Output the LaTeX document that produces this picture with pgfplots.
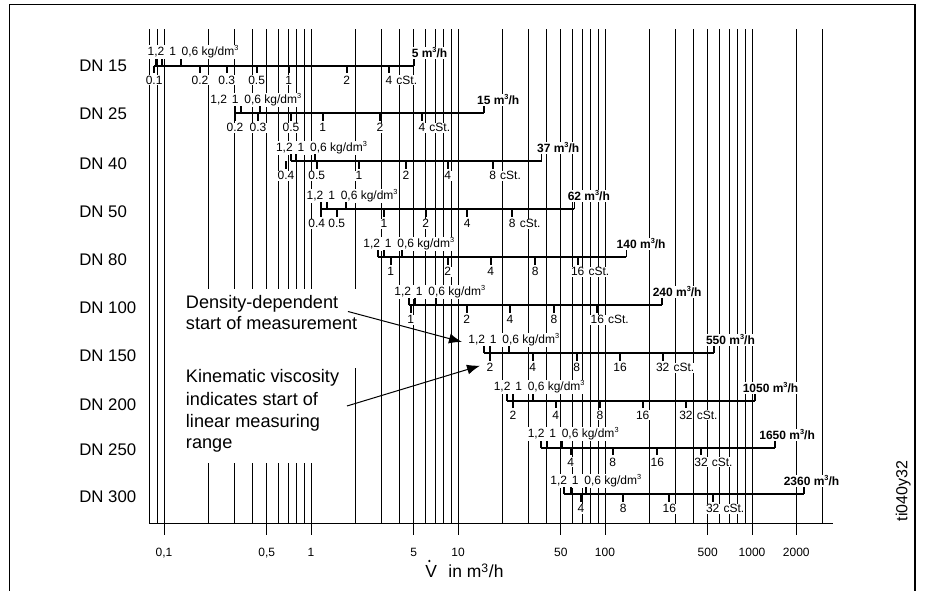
\documentclass[border=0pt]{standalone}
\usepackage{pgfplots}
\pgfplotsset{compat=1.18}
\usepackage{fontspec}
\setmainfont{Liberation Sans}
\usetikzlibrary{arrows.meta}

\pgfdeclareplotmark{utick}{\pgfpathmoveto{\pgfqpoint{0pt}{0pt}}\pgfpathlineto{\pgfqpoint{0pt}{5.6pt}}\pgfusepathqstroke}
\pgfdeclareplotmark{dtick}{\pgfpathmoveto{\pgfqpoint{0pt}{0pt}}\pgfpathlineto{\pgfqpoint{0pt}{-5.6pt}}\pgfusepathqstroke}

\newcommand\sm{\fontsize{9}{10}\selectfont}
\newcommand\dnf{\fontsize{12.6}{14}\selectfont}
\newcommand\anf{\fontsize{13.6}{16}\selectfont}
\newcommand\xlf{\fontsize{13.1}{15}\selectfont}
\newcommand\tif{\fontsize{12}{14}\selectfont}
\newcommand\sups[1]{\raisebox{0.42em}{\fontsize{5.5}{5.5}\selectfont #1}}
\newcommand\dens{1,2\hspace{1.2pt} 1\hspace{1.8pt} 0,6 kg/dm\sups{3}}
% below label with number centred on tick
\newcommand\vl[3]{\node[lab,anchor=north] at (axis cs:#1,#2) {#3};}
% last label with cSt.
\newcommand\vlc[3]{\node[lab,anchor=north] (cc) at (axis cs:#1,#2) {#3};
  \node[lab,anchor=base west] at (cc.base east) {\,cSt.};}
\newcommand\dl[2]{\node[lab,anchor=base west] at (axis cs:#1,#2) {\dens};}
\newcommand\el[3]{\node[lab,anchor=base west] at (axis cs:#1,#2) {\textbf{#3 m\sups{3}/h}};}

\begin{document}
\begin{tikzpicture}[
  lab/.style={font=\sm, fill=white, inner sep=0.6pt},
  rng/.style={black, line width=1.5pt},
  upt/.style={only marks, mark=utick, black, line width=1.4pt},
  dnt/.style={only marks, mark=dtick, black, line width=1.4pt},
  ]
\begin{axis}[
  scale only axis, width=512.4375pt, height=371.25pt,
  xmode=log, xmin=0.08, xmax=3556, ymin=67, ymax=562,
  axis x line*=bottom, axis y line=none,
  x axis line style={-, line width=0.75pt},
  xtick={0.1,0.5,1,5,10,50,100,500,1000,2000},
  xticklabels={{0,1},{0,5},1,5,10,50,100,500,1000,2000},
  minor xtick={0.08,0.09,0.2,0.3,0.4,0.6,0.7,0.8,0.9,2,3,4,6,7,8,9,20,30,40,60,70,80,90,200,300,400,600,700,800,900,3000},
  xmajorgrids=true, xminorgrids=true,
  major grid style={black, line width=0.7pt},
  minor grid style={black, line width=0.7pt},
  tick align=outside, major tick length=8.25pt, minor tick length=0pt,
  tick style={black, line width=0.7pt},
  xticklabel style={font=\sm, anchor=north, inner sep=0pt},
  xticklabel shift=9.5pt,
  clip=false,
]
% ---------- DN 15
\addplot[rng] coordinates {(0.0855,525) (5,525)};
\addplot[upt] coordinates {(0.0882,525) (0.0973,525) (0.1305,525) (5,525)};
\addplot[dnt] coordinates {(0.0857,525) (0.1758,525) (0.267,525) (0.427,525) (0.705,525) (1.749,525) (3.394,525)};
\vl{0.0857}{516}{0.1}\vl{0.1758}{516}{0.2}\vl{0.267}{516}{0.3}\vl{0.427}{516}{0.5}\vl{0.705}{516}{1}\vl{1.749}{516}{2}\vlc{3.394}{516}{4}
\dl{0.0762}{535}\el{4.767}{533.5}{5}
% ---------- DN 25
\addplot[rng] coordinates {(0.304,477.5) (15,477.5)};
\addplot[upt] coordinates {(0.304,477.5) (0.3357,477.5) (0.4519,477.5) (15,477.5)};
\addplot[dnt] coordinates {(0.304,477.5) (0.436,477.5) (0.731,477.5) (1.201,477.5) (2.947,477.5) (5.69,477.5)};
\vl{0.304}{468.5}{0.2}\vl{0.436}{468.5}{0.3}\vl{0.731}{468.5}{0.5}\vl{1.201}{468.5}{1}\vl{2.947}{468.5}{2}\vlc{5.69}{468.5}{4}
\dl{0.2033}{487.5}\el{13.26}{486}{15}
% ---------- DN 40
\addplot[rng] coordinates {(0.728,429.5) (37,429.5)};
\addplot[upt] coordinates {(0.728,429.5) (0.787,429.5) (1.065,429.5) (37,429.5)};
\addplot[dnt] coordinates {(0.676,429.5) (1.093,429.5) (2.121,429.5) (4.429,429.5) (8.51,429.5) (17.22,429.5)};
\vl{0.676}{420.5}{0.4}\vl{1.093}{420.5}{0.5}\vl{2.121}{420.5}{1}\vl{4.429}{420.5}{2}\vl{8.51}{420.5}{4}\vlc{17.22}{420.5}{8}
\dl{0.569}{439.5}\el{33.94}{438}{37}
% ---------- DN 50
\addplot[rng] coordinates {(1.175,381.5) (62,381.5)};
\addplot[upt] coordinates {(1.175,381.5) (1.279,381.5) (1.739,381.5) (62,381.5)};
\addplot[dnt] coordinates {(1.175,381.5) (1.496,381.5) (3.138,381.5) (6.03,381.5) (11.57,381.5) (23.41,381.5)};
\vl{1.093}{372.5}{0.4}\vl{1.496}{372.5}{0.5}\vl{3.138}{372.5}{1}\vl{6.03}{372.5}{2}\vl{11.57}{372.5}{4}\vlc{23.41}{372.5}{8}
\dl{0.920}{391.5}\el{54.89}{390}{62}
% ---------- DN 80
\addplot[rng] coordinates {(2.870,333.5) (140,333.5)};
\addplot[upt] coordinates {(2.870,333.5) (3.138,333.5) (4.179,333.5) (140,333.5)};
\addplot[dnt] coordinates {(3.485,333.5) (8.51,333.5) (16.69,333.5) (33.57,333.5) (65.22,333.5)};
\vl{3.485}{324.5}{1}\vl{8.51}{324.5}{2}\vl{16.69}{324.5}{4}\vl{33.57}{324.5}{8}\vlc{65.22}{324.5}{16}
\dl{2.234}{343.5}\el{118.2}{342}{140}
% ---------- DN 100
\addplot[rng] coordinates {(4.664,285.5) (245,285.5)};
\addplot[upt] coordinates {(4.664,285.5) (5.099,285.5) (7.053,285.5) (245,285.5)};
\addplot[dnt] coordinates {(4.767,285.5) (11.46,285.5) (22.58,285.5) (44.99,285.5) (88.63,285.5)};
\vl{4.767}{276.5}{1}\vl{11.46}{276.5}{2}\vl{22.58}{276.5}{4}\vl{44.99}{276.5}{8}\vlc{88.63}{276.5}{16}
\dl{3.630}{295.5}\el{207.8}{294}{240}
% ---------- DN 150
\addplot[rng] coordinates {(14.96,237.5) (550,237.5)};
\addplot[upt] coordinates {(14.96,237.5) (16.51,237.5) (22.23,237.5) (550,237.5)};
\addplot[dnt] coordinates {(16.51,237.5) (32.23,237.5) (64.2,237.5) (126.5,237.5) (246.9,237.5)};
\vl{16.51}{228.5}{2}\vl{32.23}{228.5}{4}\vl{64.2}{228.5}{8}\vl{126.5}{228.5}{16}\vlc{246.9}{228.5}{32}
\dl{11.57}{247.5}\el{478.9}{246}{550}
% ---------- DN 200
\addplot[rng] coordinates {(21.45,190) (1050,190)};
\addplot[upt] coordinates {(21.45,190) (23.67,190) (32.23,190) (1050,190)};
\addplot[dnt] coordinates {(23.67,190) (46.2,190) (92.5,190) (180.5,190) (355.6,190)};
\vl{23.67}{181}{2}\vl{46.2}{181}{4}\vl{92.5}{181}{8}\vl{180.5}{181}{16}\vlc{355.6}{181}{32}
\dl{17.22}{200}\el{850.9}{198.5}{1050}
% ---------- DN 250
\addplot[rng] coordinates {(36.69,143) (1440,143)};
\addplot[upt] coordinates {(36.69,143) (40.51,143) (50.75,143) (1440,143)};
\addplot[dnt] coordinates {(58.43,143) (112.8,143) (226.9,143) (450,143)};
\vl{58.43}{134}{4}\vl{112.8}{134}{8}\vl{226.9}{134}{16}\vlc{450}{134}{32}
\dl{29.34}{153}\el{1104}{151.5}{1650}
% ---------- DN 300
\addplot[rng] coordinates {(52.86,96.5) (2270,96.5)};
\addplot[upt] coordinates {(52.86,96.5) (58.43,96.5) (74.26,96.5) (2270,96.5)};
\addplot[dnt] coordinates {(68.66,96.5) (133.2,96.5) (273.7,96.5) (540.5,96.5)};
\vl{68.66}{87.5}{4}\vl{133.2}{87.5}{8}\vl{273.7}{87.5}{16}\vlc{540.5}{87.5}{32}
\dl{41.80}{106.5}\el{1617}{105}{2360}
\end{axis}
\begin{scope}[x=0.75pt,y=-0.75pt,xshift=-112.3125pt,yshift=393pt]
  \draw[line width=1pt] (9.3,591) -- (9.3,4.3) -- (915,4.3) -- (915,591);
  \foreach \t/\yy in {15/66,25/114,40/163.3,50/211.7,80/259.3,100/307.7,150/355.7,200/405,250/450,300/496.7}
    \node[anchor=west, inner sep=0pt, font=\dnf] at (79,\yy) {DN \t};
  \fill[white] (170,289) rectangle (352,463);
  \fill[white] (352,289) rectangle (363,368);
  \node[anchor=base west, inner sep=0pt, font=\anf] at (185.7,308.3) {Density-dependent};
  \node[anchor=base west, inner sep=0pt, font=\anf] at (185.7,330) {start of measurement};
  \node[anchor=base west, inner sep=0pt, font=\anf] at (185.7,382.7) {Kinematic viscosity};
  \node[anchor=base west, inner sep=0pt, font=\anf] at (185.7,405.5) {indicates start of};
  \node[anchor=base west, inner sep=0pt, font=\anf] at (185.7,427.3) {linear measuring};
  \node[anchor=base west, inner sep=0pt, font=\anf] at (185.7,449) {range};
  \draw[line width=0.75pt, -{Latex[length=9.75pt,width=7.5pt]}] (348,311.5) -- (462,342);
  \draw[line width=0.75pt, -{Latex[length=9.75pt,width=7.5pt]}] (347,406) -- (480,365.7);
  \node[anchor=base west, inner sep=0pt, font=\xlf] at (425,578) {V\hspace{5pt} in m\textsuperscript{3}/h};
  \fill (429.4,561) circle (1.25);
  \node[rotate=90, inner sep=0pt, font=\tif] at (903.3,491) {ti040y32};
  \pgfresetboundingbox
  \useasboundingbox (0,0) rectangle (925,591);
\end{scope}
\end{tikzpicture}
\end{document}
